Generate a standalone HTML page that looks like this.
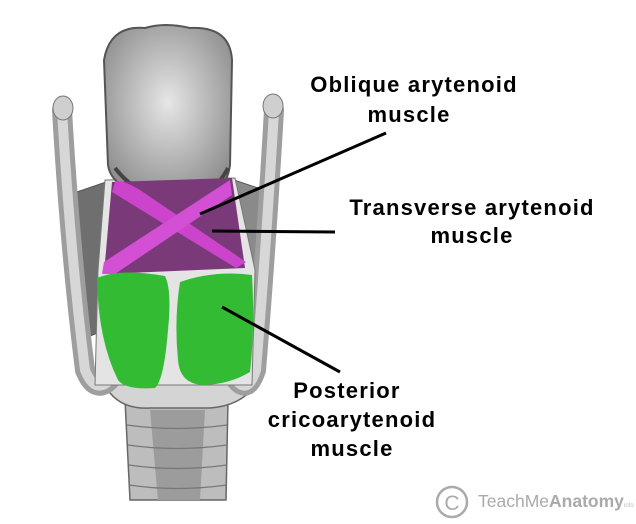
<!DOCTYPE html>
<html><head><style>
html,body{margin:0;padding:0;background:#fff;}
svg{display:block;}
text{font-family:"Liberation Sans",sans-serif;}
</style></head><body>
<svg width="636" height="524" viewBox="0 0 636 524" xmlns="http://www.w3.org/2000/svg">
<defs>
<radialGradient id="ep" cx="0.5" cy="0.45" r="0.6"><stop offset="0" stop-color="#e6e6e6"/><stop offset="1" stop-color="#8f8f8f"/></radialGradient>
</defs>
<!-- trachea -->
<path d="M125 400 L228 400 L226 500 L130 500 Z" fill="#bdbdbd" stroke="#666" stroke-width="1.5"/>
<path d="M150 410 L205 410 L200 500 L158 500 Z" fill="#9c9c9c"/>
<g stroke="#777" stroke-width="1.2" fill="none">
<path d="M127 425 Q176 432 227 425"/><path d="M128 445 Q176 452 227 445"/><path d="M129 465 Q176 472 227 465"/><path d="M129 485 Q176 492 227 485"/>
</g>
<!-- cricoid band -->
<path d="M100 372 Q110 410 150 408 L210 408 Q250 405 262 372 Z" fill="#d4d4d4" stroke="#666" stroke-width="1.5"/>
<!-- thyroid wings -->
<path d="M68 195 L112 180 L105 330 L80 340 Z" fill="#6f6f6f" stroke="#555"/>
<path d="M270 192 L228 178 L240 330 L262 340 Z" fill="#8a8a8a" stroke="#555"/>
<!-- horns -->
<path d="M62 110 Q70 250 85 370 Q95 395 110 380" stroke="#9e9e9e" stroke-width="20" fill="none" stroke-linecap="round"/>
<path d="M62 110 Q70 250 85 370 Q95 395 110 380" stroke="#d7d7d7" stroke-width="10" fill="none" stroke-linecap="round"/>
<path d="M274 110 Q266 250 256 370 Q248 395 236 380" stroke="#9e9e9e" stroke-width="20" fill="none" stroke-linecap="round"/>
<path d="M274 110 Q266 250 256 370 Q248 395 236 380" stroke="#d7d7d7" stroke-width="10" fill="none" stroke-linecap="round"/>
<ellipse cx="63" cy="108" rx="10" ry="12" fill="#cfcfcf" stroke="#777"/>
<ellipse cx="273" cy="106" rx="10" ry="12" fill="#cfcfcf" stroke="#777"/>
<!-- central plate -->
<path d="M105 180 L235 178 L255 270 L252 385 L95 385 L98 270 Z" fill="#e4e4e4" stroke="#777"/>
<!-- epiglottis -->
<path d="M104 60 Q110 25 145 28 Q165 22 190 28 Q230 26 232 60 L230 165 Q226 195 200 192 Q176 202 150 192 Q112 190 108 165 Z" fill="url(#ep)" stroke="#555" stroke-width="2"/>
<path d="M115 168 Q140 200 176 198 Q212 200 228 168" stroke="#444" stroke-width="4" fill="none"/>
<!-- purple -->
<path d="M112 182 L232 178 L245 268 L104 274 Z" fill="#7a3a7a"/>
<path d="M115 182 Q120 178 140 190 L246 262 L236 268 L112 192 Z" fill="#cc44cc"/>
<path d="M230 180 L232 195 L115 274 L102 274 L104 262 Z" fill="#d34fd3"/>
<!-- green -->
<path d="M97 278 Q120 268 165 276 Q172 290 168 330 Q164 380 155 388 Q125 390 118 380 Q98 340 97 278 Z" fill="#33bb33"/>
<path d="M180 282 Q215 270 252 275 Q255 330 250 372 Q230 384 205 385 Q180 385 178 360 Q174 320 180 282 Z" fill="#33bb33"/>
<!-- leader lines -->
<g stroke="#000" stroke-width="3">
<line x1="200" y1="214" x2="386" y2="133"/>
<line x1="212" y1="231" x2="335" y2="232"/>
<line x1="222" y1="307" x2="340" y2="372"/>
</g>
<g font-weight="bold" font-size="22" fill="#000" text-anchor="middle" letter-spacing="1.2">
<text x="414" y="92">Oblique arytenoid</text>
<text x="409" y="122">muscle</text>
<text x="472" y="215">Transverse arytenoid</text>
<text x="472" y="243">muscle</text>
<text x="347" y="398">Posterior</text>
<text x="352" y="427">cricoarytenoid</text>
<text x="352" y="456">muscle</text>
</g>
<circle cx="452" cy="502" r="15" fill="none" stroke="#aaa" stroke-width="2.5"/>
<text x="452" y="510" font-size="21" fill="#aaa" text-anchor="middle">C</text>
<text x="478" y="507" font-size="17.5" fill="#aaa">TeachMe<tspan font-weight="bold">Anatomy</tspan></text>
<text x="624" y="507" font-size="6" fill="#bbb">info</text>
</svg>
</body></html>
